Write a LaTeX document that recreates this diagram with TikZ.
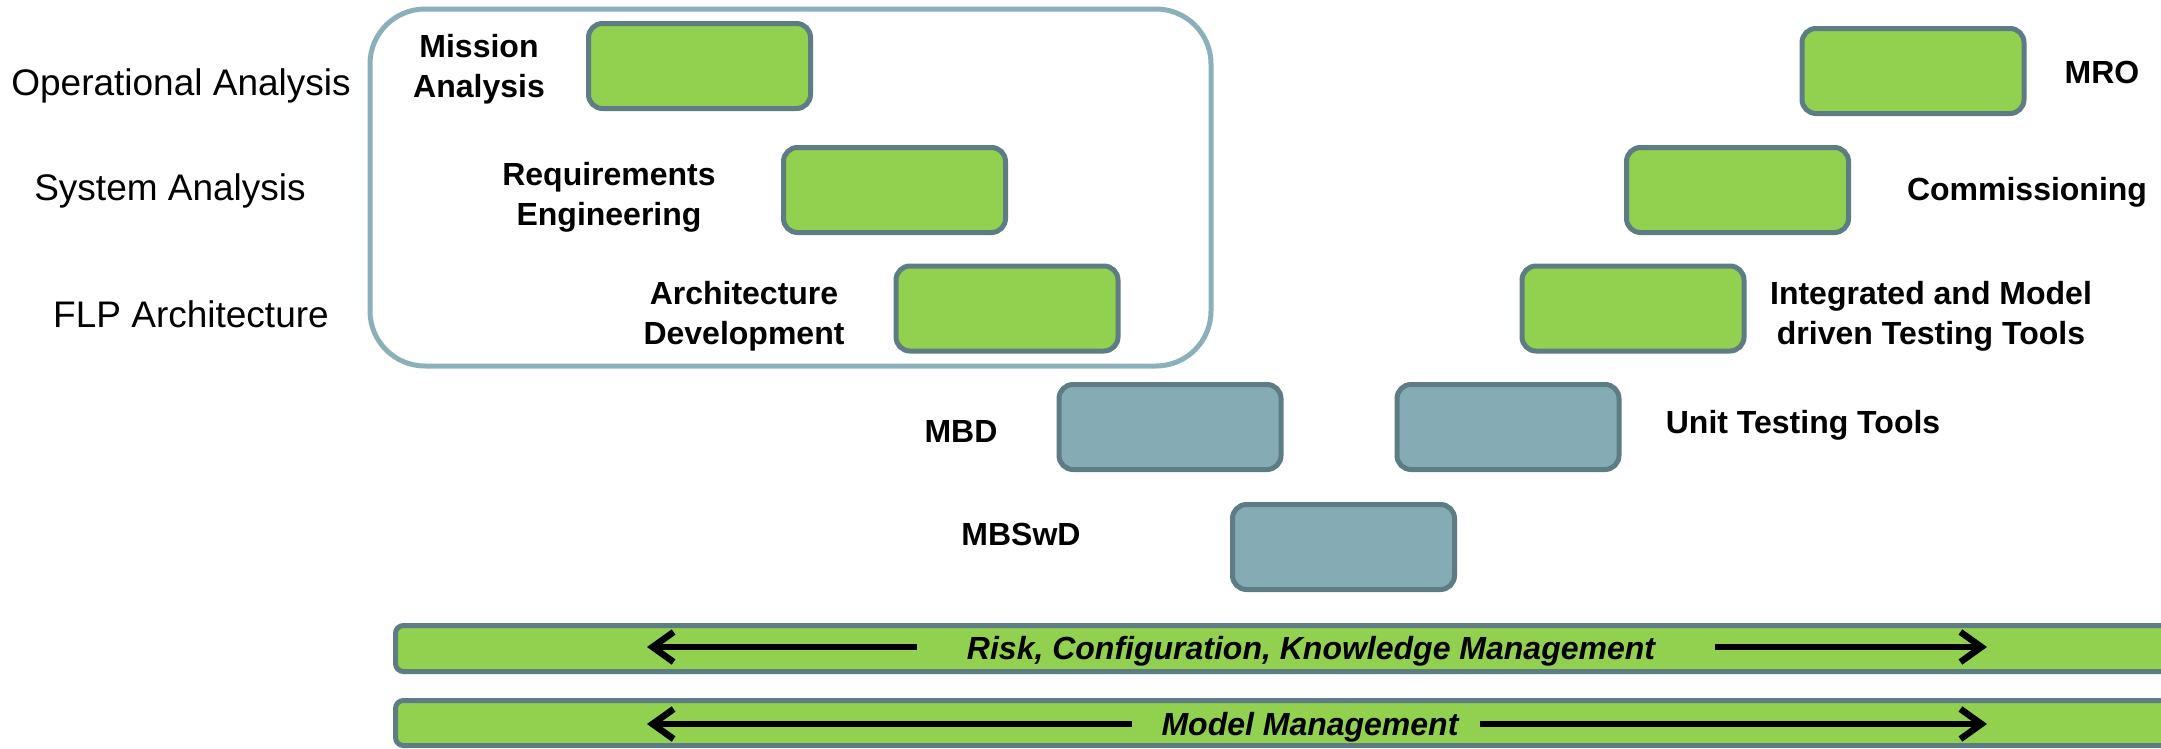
\documentclass[tikz,border=0pt]{standalone}
\usepackage{fontspec}
\setmainfont{Liberation Sans}
\usetikzlibrary{arrows.meta}
\definecolor{lgreen}{RGB}{146,208,80}
\definecolor{slate}{RGB}{94,124,132}
\definecolor{lblue}{RGB}{133,171,181}
\definecolor{framecol}{RGB}{139,176,186}
\begin{document}
\begin{tikzpicture}[x=1pt,y=-1pt,
 box/.style={draw=slate, line width=5pt, rounded corners=14pt, minimum width=222pt, minimum height=85pt, inner sep=0pt},
 gbox/.style={box, fill=lgreen},
 bbox/.style={box, fill=lblue},
 lbl/.style={font=\fontsize{32}{40}\selectfont\bfseries, inner sep=0pt},
 lbltwo/.style={lbl, align=center},
 side/.style={font=\fontsize{37}{44}\selectfont, inner sep=0pt, anchor=base},
 bar/.style={draw=slate, fill=lgreen, line width=5pt, rounded corners=8pt},
 barlbl/.style={font=\fontsize{32}{40}\selectfont\bfseries\itshape, inner sep=0pt, anchor=base},
 flow/.style={line width=6.5pt, -{Straight Barb[length=21pt,width=30pt]}},
]
\clip (0,0) rectangle (2161,748);
\fill[white] (0,0) rectangle (2161,748);

% phase frame
\node[draw=framecol, line width=5pt, rounded corners=55pt, minimum width=841pt, minimum height=357pt, inner sep=0pt] (phase) at (790.5,187.5) {};

% boxes
\node[gbox] (mission) at (699.5,66) {};
\node[gbox] (req) at (894.5,190) {};
\node[gbox] (arch) at (1007,308.5) {};
\node[bbox] (mbd) at (1170,427) {};
\node[bbox] (mbswd) at (1343.5,547) {};
\node[bbox] (unit) at (1508,427) {};
\node[gbox] (integ) at (1633,308.5) {};
\node[gbox] (comm) at (1737.5,190) {};
\node[gbox] (mro) at (1913,71) {};

% box labels
\node[lbltwo] (tmission) at (479,69) {Mission\\Analysis};
\node[lbltwo] (treq) at (609,197) {Requirements\\Engineering};
\node[lbltwo] (tarch) at (744,316) {Architecture\\Development};
\node[lbl, anchor=base] (tmbd) at (961,442) {MBD};
\node[lbl, anchor=base] (tmbswd) at (1021,545) {MBSwD};
\node[lbl, anchor=base] (tunit) at (1803,433) {Unit Testing Tools};
\node[lbltwo] (tinteg) at (1931,316) {Integrated and Model\\driven Testing Tools};
\node[lbl, anchor=base] (tcomm) at (2027,200) {Commissioning};
\node[lbl, anchor=base] (tmro) at (2102,83) {MRO};

% side labels
\node[side] (op) at (181,95) {Operational Analysis};
\node[side] (sys) at (170,200) {System Analysis};
\node[side] (flp) at (191,327) {FLP Architecture};

% bars
\draw[bar] (395.5,625.5) rectangle (2200,671.5);
\draw[bar] (395.5,700.5) rectangle (2200,745.5);
\node[barlbl] (risk) at (1311,659) {Risk, Configuration, Knowledge Management};
\node[barlbl] (model) at (1310,735) {Model Management};

\coordinate (ra) at (917,647);
\coordinate (rb) at (647,647);
\coordinate (rc) at (1715,647);
\coordinate (rd) at (1987,647);
\coordinate (ma) at (1132,724);
\coordinate (mb) at (647,724);
\coordinate (mc) at (1480,724);
\coordinate (md) at (1987,724);
\draw[flow] (ra) -- (rb);
\draw[flow] (rc) -- (rd);
\draw[flow] (ma) -- (mb);
\draw[flow] (mc) -- (md);
\end{tikzpicture}
\end{document}
